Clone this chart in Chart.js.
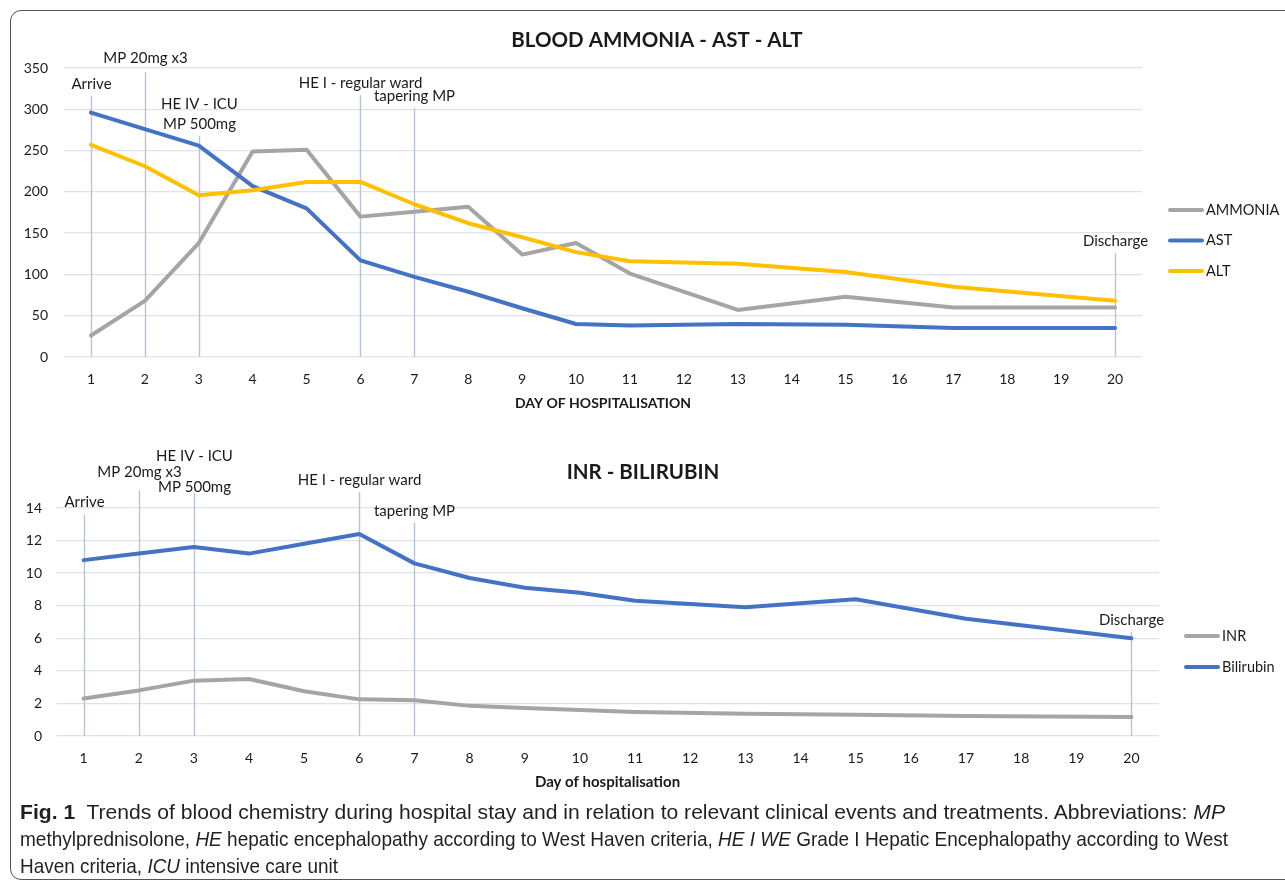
<!DOCTYPE html>
<html>
<head>
<meta charset="utf-8">
<script src="https://cdn.jsdelivr.net/npm/chart.js@4.4.1/dist/chart.umd.min.js"></script>
<style>
    body { margin: 0; background: #fff; width: 1285px; height: 885px; overflow: hidden; position: relative; }
    .frame { position: absolute; left: 10px; top: 10px; width: 1300px; height: 868px; border: 1px solid #555; border-radius: 11px; }
    #chartTop { position: absolute; left: 0; top: 0; }
    #chartBottom { position: absolute; left: 0; top: 430px; }
    .caption { position: absolute; left: 20px; top: 798px; font-family: 'Liberation Sans Narrow', 'Liberation Sans', sans-serif; font-size: 21px; line-height: 27px; color: #231f20; }
    .caption .ln { display: block; width: max-content; white-space: nowrap; transform-origin: left center; }
</style>
</head>
<body>
<div class="frame"></div>
<canvas id="chartTop" width="1285" height="430"></canvas>
<canvas id="chartBottom" width="1285" height="370"></canvas>
<div class="caption">
    <span class="ln" data-w="1205"><b>Fig. 1</b>&nbsp; Trends of blood chemistry during hospital stay and in relation to relevant clinical events and treatments. Abbreviations: <i>MP</i></span>
    <span class="ln" data-w="1208">methylprednisolone, <i>HE</i> hepatic encephalopathy according to West Haven criteria, <i>HE I WE</i> Grade I Hepatic Encephalopathy according to West</span>
    <span class="ln" data-w="318">Haven criteria, <i>ICU</i> intensive care unit</span>
</div>
<script>
const days = ['1', '2', '3', '4', '5', '6', '7', '8', '9', '10', '11', '12', '13', '14', '15', '16', '17', '18', '19', '20'];

// top chart series (null = no measurement that day)
const ammonia = [26, 68, 138, 249, 251, 170, 176, 182, 124, 138, 101, null, 57, null, 73, null, 60, null, null, 60];
const ast = [296, 276, 256, 207, 180, 117, 97, 79, 59, 40, 38, null, 40, null, 39, null, 35, null, null, 35];
const alt = [257, 231, 196, 202, 212, 212, 185, 162, 145, 127, 116, null, 113, null, 103, null, 85, null, null, 68];

// bottom chart series
const inr = [2.3, 2.8, 3.4, 3.5, 2.75, 2.25, 2.2, 1.85, 1.72, 1.6, 1.48, null, 1.37, null, 1.3, null, 1.23, null, null, 1.17];
const bilirubin = [10.8, 11.2, 11.6, 11.2, 11.8, 12.4, 10.6, 9.7, 9.1, 8.8, 8.3, null, 7.9, null, 8.4, null, 7.2, null, null, 6.0];

const topTicks = [0, 50, 100, 150, 200, 250, 300, 350];
const bottomTicks = [0, 2, 4, 6, 8, 10, 12, 14];

// clinical events and how far up their marker line reaches
const eventDays = [1, 2, 3, 6, 7, 20];
const eventNames = [['Arrive'], ['MP 20mg x3'], ['HE IV - ICU', 'MP 500mg'], ['HE I - regular ward'], ['tapering MP'], ['Discharge']];
const markerTopA = [316, 345, 268, 317, 302, 126];
const markerTopB = [13.6, 15.1, 14.9, 15.0, 13.1, 6.4];

const FONT = 'Lato';
const TEXT = '#1a1a1a';
const GRID = '#dfe2e8';

const eventMarks = {
    id: 'eventMarks',
    beforeDatasetsDraw(chart, args, opts) {
        const { ctx, scales: { x, y } } = chart;
        const base = y.getPixelForValue(0);
        ctx.save();
        ctx.font = `15px ${FONT}`;
        ctx.textAlign = 'center';
        ctx.textBaseline = 'middle';
        eventDays.forEach((d, i) => {
            const px = Math.round(x.getPixelForValue(d - 1)) + 0.5;
            const top = y.getPixelForValue(opts.tops[i]);
            ctx.strokeStyle = '#b7c3d6';
            ctx.lineWidth = 1.4;
            ctx.beginPath();
            ctx.moveTo(px, top);
            ctx.lineTo(px, base);
            ctx.stroke();
            ctx.fillStyle = TEXT;
            eventNames[i].forEach((t, j) => ctx.fillText(t, px, top + opts.offsets[i][j]));
        });
        ctx.restore();
    }
};

const headline = {
    id: 'headline',
    afterDraw(chart, args, opts) {
        const { ctx } = chart;
        ctx.save();
        ctx.font = `bold 20.5px ${FONT}`;
        ctx.fillStyle = TEXT;
        ctx.textAlign = 'center';
        ctx.textBaseline = 'middle';
        ctx.fillText(opts.text, opts.x, opts.y);
        ctx.restore();
    }
};

const sideLegend = {
    id: 'sideLegend',
    afterDraw(chart, args, opts) {
        const { ctx } = chart;
        ctx.save();
        ctx.font = `14.5px ${FONT}`;
        ctx.textBaseline = 'middle';
        opts.order.forEach((di, i) => {
            const ds = chart.data.datasets[di];
            const yy = opts.y + i * opts.gap;
            ctx.strokeStyle = ds.borderColor;
            ctx.lineWidth = 4;
            ctx.lineCap = 'round';
            ctx.beginPath();
            ctx.moveTo(opts.x + 2, yy);
            ctx.lineTo(opts.x + 34, yy);
            ctx.stroke();
            ctx.fillStyle = TEXT;
            ctx.fillText(ds.label, opts.x + 38, yy);
        });
        ctx.restore();
    }
};

function lineSet(label, data, color, order) {
    return {
        label, data, order,
        borderColor: color,
        backgroundColor: color,
        borderWidth: 4,
        pointRadius: 0,
        tension: 0,
        spanGaps: true,
        borderCapStyle: 'round',
        borderJoinStyle: 'round'
    };
}

function axes(ticks, yPad, xTitle, xTitleSize, xTitlePad) {
    return {
        x: {
            offset: true,
            grid: { display: false },
            border: { display: false },
            ticks: { color: TEXT, font: { family: FONT, size: 14 }, padding: 6, maxRotation: 0, autoSkip: false },
            title: { display: true, text: xTitle, color: TEXT, font: { family: FONT, size: xTitleSize, weight: 'bold' }, padding: { top: 0, bottom: xTitlePad } },
            afterFit(scale) { scale.height = 60; }
        },
        y: {
            min: ticks[0],
            max: ticks[ticks.length - 1],
            grid: { color: GRID, lineWidth: 1.3, drawTicks: false },
            border: { display: false },
            ticks: { stepSize: ticks[1] - ticks[0], color: TEXT, font: { family: FONT, size: 14 }, padding: yPad },
            afterFit(scale) { scale.width = 40; }
        }
    };
}

new Chart(document.getElementById('chartTop'), {
    type: 'line',
    data: {
        labels: days,
        datasets: [
            lineSet('AMMONIA', ammonia, '#a5a5a5', 3),
            lineSet('AST', ast, '#4472c4', 2),
            lineSet('ALT', alt, '#ffc000', 1)
        ]
    },
    options: {
        responsive: false,
        animation: false,
        layout: { padding: { left: 24, top: 68, right: 143, bottom: 13 } },
        plugins: {
            legend: { display: false },
            tooltip: { enabled: false },
            eventMarks: { tops: markerTopA, offsets: [[-12], [-14], [-32, -12], [-12], [-11], [-12]] },
            headline: { text: 'BLOOD AMMONIA - AST - ALT', x: 657, y: 40 },
            sideLegend: { order: [0, 1, 2], x: 1168, y: 210, gap: 30.5 }
        },
        scales: axes(topTicks, 16, 'DAY OF HOSPITALISATION', 14, 5)
    },
    plugins: [eventMarks, headline, sideLegend]
});

new Chart(document.getElementById('chartBottom'), {
    type: 'line',
    data: {
        labels: days,
        datasets: [
            lineSet('INR', inr, '#a5a5a5', 2),
            lineSet('Bilirubin', bilirubin, '#4472c4', 1)
        ]
    },
    options: {
        responsive: false,
        animation: false,
        layout: { padding: { left: 16, top: 78, right: 126, bottom: 4 } },
        plugins: {
            legend: { display: false },
            tooltip: { enabled: false },
            eventMarks: { tops: markerTopB, offsets: [[-12], [-18], [-37, -6], [-12], [-12], [-12]] },
            headline: { text: 'INR - BILIRUBIN', x: 643, y: 42 },
            sideLegend: { order: [0, 1], x: 1184, y: 206, gap: 31 }
        },
        scales: axes(bottomTicks, 14, 'Day of hospitalisation', 15, 5)
    },
    plugins: [eventMarks, headline, sideLegend]
});

// squeeze caption lines to the reference line lengths
document.querySelectorAll('.caption .ln').forEach(el => {
    const target = +el.dataset.w;
    const w = el.getBoundingClientRect().width;
    el.style.transform = `scaleX(${target / w})`;
});
</script>
</body>
</html>
